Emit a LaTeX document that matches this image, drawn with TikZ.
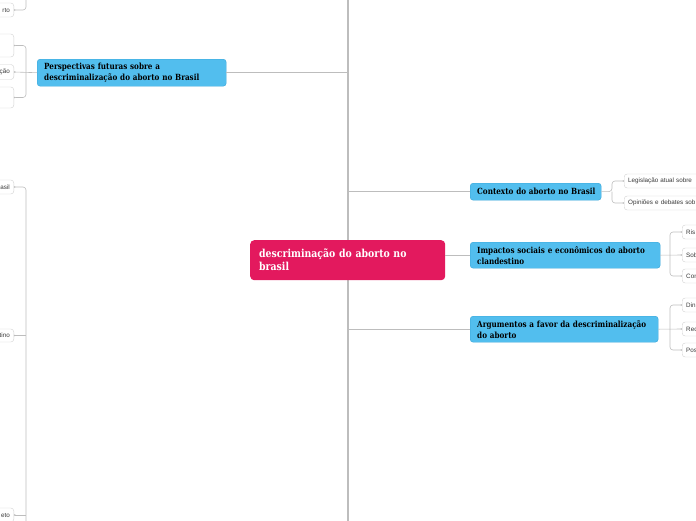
\documentclass[tikz,border=0pt]{standalone}
\usepackage{fontspec}
\setmainfont{DejaVu Serif}[FakeStretch=0.85]
\setsansfont{Liberation Sans}
\usetikzlibrary{arrows.meta}

\definecolor{topicblue}{HTML}{52BEEE}
\definecolor{topicedge}{HTML}{3AA6D8}
\definecolor{centralpink}{HTML}{E3195E}
\definecolor{linegray}{HTML}{BDBDBD}
\definecolor{leafedge}{HTML}{D2D2D2}
\definecolor{leaftext}{HTML}{3A3A3A}

\begin{document}
\begin{tikzpicture}[x=1pt,y=-1pt,
	topic/.style={draw=topicedge, fill=topicblue, rounded corners=3pt, anchor=north west, inner xsep=7pt, inner ysep=0pt, align=left, font=\bfseries\fontsize{8.5}{11}\selectfont},
	central/.style={fill=centralpink, rounded corners=4pt, anchor=north west, inner xsep=9pt, inner ysep=0pt, align=left, text=white, font=\bfseries\fontsize{11}{13}\selectfont},
	leaf/.style={draw=leafedge, fill=white, rounded corners=3pt, inner xsep=4pt, inner ysep=0pt, text=leaftext, font=\sffamily\fontsize{6.3}{7}\selectfont},
	leafR/.style={leaf, anchor=west, text width=80pt, align=left},
	leafL/.style={leaf, anchor=east, text width=44pt, align=right},
	trunk/.style={draw=linegray, line width=1.2pt},
	branch/.style={draw=linegray, line width=0.8pt},
	twig/.style={draw=linegray, line width=0.6pt, rounded corners=3pt, -{Circle[length=1.6pt]}},
]
	\useasboundingbox (0,0) rectangle (696,520);
	\clip (0,0) rectangle (696,520);

	% trunk
	\coordinate (top) at (348,-5);
	\coordinate (bottom) at (348,525);
	\draw[trunk] (top) -- (bottom);

	% central topic
	\node[central, text width=177pt, minimum height=40pt] (root) at (250,240) {descriminação do aborto no\\brasil};

	% main topics
	\node[topic, text width=175pt, minimum height=27pt] (persp) at (37,59) {Perspectivas futuras sobre a\\descriminalização do aborto no Brasil};
	\node[topic, text width=117pt, minimum height=17pt] (ctx) at (470,183) {\makebox[117pt][l]{Contexto do aborto no Brasil}};
	\node[topic, text width=176pt, minimum height=26pt] (imp) at (470,242) {Impactos sociais e econômicos do aborto\\clandestino};
	\node[topic, text width=174pt, minimum height=26pt] (arg) at (470,316) {Argumentos a favor da descriminalização\\do aborto};

	\draw[branch] (persp.east) -- (persp.east -| top);
	\draw[branch] (ctx.west -| top) -- (ctx.west);
	\draw[branch] (imp.west -| root.east) -- (imp.west);
	\draw[branch] (arg.west -| top) -- (arg.west);

	% leaves right
	\node[leafR, minimum height=14pt] (c1) at (624,181) {Legislação atual sobre};
	\node[leafR, minimum height=14pt] (c2) at (624,203) {Opiniões e debates sob};
	\coordinate (cfork) at (612,191.5);
	\draw[twig] (ctx.east) -- (cfork) |- (c1.west);
	\draw[twig] (cfork) |- (c2.west);

	\node[leafR, minimum height=14pt] (i1) at (682,232) {Ris};
	\node[leafR, minimum height=14pt] (i2) at (682,255) {Sob};
	\node[leafR, minimum height=14pt] (i3) at (682,276) {Con};
	\coordinate (ifork) at (670,255);
	\draw[twig] (imp.east) -- (i2.west);
	\draw[twig] (ifork) |- (i1.west);
	\draw[twig] (ifork) |- (i3.west);

	\node[leafR, minimum height=14pt] (a1) at (682,305) {Din};
	\node[leafR, minimum height=14pt] (a2) at (682,329) {Rec};
	\node[leafR, minimum height=14pt] (a3) at (682,350) {Pos};
	\coordinate (afork) at (670,329);
	\draw[twig] (arg.east) -- (a2.west);
	\draw[twig] (afork) |- (a1.west);
	\draw[twig] (afork) |- (a3.west);

	% leaves left
	\node[leafL, minimum height=14pt] (p0) at (14,10) {rto};
	\node[leafL, minimum height=23pt] (p1) at (14,45.5) {};
	\node[leafL, minimum height=15pt] (p2) at (14,72) {ção};
	\node[leafL, minimum height=21pt] (p3) at (14,97.5) {};
	\coordinate (pfork) at (26,72);
	\coordinate (ptop) at (26,-10);
	\draw[twig] (persp.west) -- (p2.east);
	\draw[twig] (pfork) |- (p1.east);
	\draw[twig] (pfork) |- (p3.east);
	\draw[twig, {Circle[length=1.6pt]}-] (p0.east) -| (ptop);

	\node[leafL, minimum height=14pt] (b1) at (14,187) {asil};
	\node[leafL, minimum height=13pt] (b2) at (14,335.5) {tino};
	\node[leafL, minimum height=14pt] (b3) at (14,515) {eto};
	\coordinate (bbot) at (26,530);
	\draw[twig, {Circle[length=1.6pt]}-] (b1.east) -| (bbot);
	\draw[twig, {Circle[length=1.6pt]}-] (b2.east) -- (b2.east -| bbot);
	\draw[twig, {Circle[length=1.6pt]}-] (b3.east) -- (b3.east -| bbot);
\end{tikzpicture}
\end{document}
